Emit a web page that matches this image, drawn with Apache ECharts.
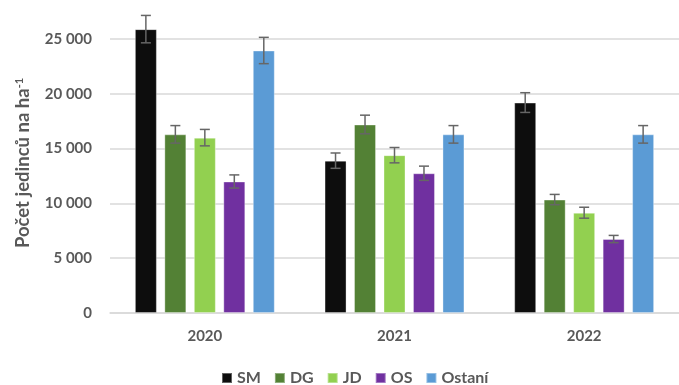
<!DOCTYPE html>
<html><head><meta charset="utf-8">
<script src="https://cdn.jsdelivr.net/npm/echarts@6/dist/echarts.min.js"></script>
<style>html,body{margin:0;padding:0;background:#fff}#c{width:679px;height:385px}</style>
</head><body><div id="c"></div>
<script>
const categories = ['2020', '2021', '2022'];
const seriesNames = ['SM', 'DG', 'JD', 'OS', 'Ostaní'];
const SM = [25900, 13900, 19200];
const DG = [16300, 17200, 10350];
const JD = [16000, 14400, 9150];
const OS = [12000, 12750, 6750];
const Ostani = [23950, 16300, 16300];
const errSM = [1250, 700, 900];
const errDG = [800, 850, 470];
const errJD = [750, 700, 500];
const errOS = [600, 650, 330];
const errOstani = [1200, 800, 800];
const yTicks = [0, 5000, 10000, 15000, 20000, 25000];

const values = [SM, DG, JD, OS, Ostani];
const errors = [errSM, errDG, errJD, errOS, errOstani];
const colors = ['#0d0d0d', '#538135', '#92d050', '#7030a0', '#5b9bd5'];
const FONT = 'Lato';
const BW = 22, GAP = 0.34;
const STEP = BW * (1 + GAP);

const chart = echarts.init(document.getElementById('c'));
const series = [];
values.forEach((v, i) => {
  series.push({
    name: seriesNames[i], type: 'bar', data: v, barWidth: BW, barGap: (GAP*100)+'%',
    clip: false,
    itemStyle: { color: colors[i], borderColor: 'rgba(255,255,255,0.35)', borderWidth: 1 }
  });
});
values.forEach((v, i) => {
  series.push({
    type: 'custom', clip: false, z: 5, silent: true,
    data: v.map((val, k) => [k, val, errors[i][k]]),
    renderItem: function (params, api) {
      const k = api.value(0), val = api.value(1), e = api.value(2);
      const top = api.coord([k, val + e]);
      const bot = api.coord([k, val - e]);
      const x = top[0] + (i - 2) * STEP;
      const cw = 5;
      const st = { stroke: '#666666', lineWidth: 1.5 };
      return { type: 'group', children: [
        { type: 'line', shape: { x1: x, y1: top[1], x2: x, y2: bot[1] }, style: st },
        { type: 'line', shape: { x1: x - cw, y1: top[1], x2: x + cw, y2: top[1] }, style: st },
        { type: 'line', shape: { x1: x - cw, y1: bot[1], x2: x + cw, y2: bot[1] }, style: st }
      ]};
    }
  });
});

chart.setOption({
  animation: false,
  textStyle: { fontFamily: FONT },
  grid: { left: 110, right: -12, top: 39, bottom: 72 },
  legend: {
    data: seriesNames, top: 370, left: 221, padding: 0, icon: 'rect', itemWidth: 10, itemHeight: 10, itemGap: 13,
    textStyle: { fontFamily: FONT, fontSize: 16, lineHeight: 16, fontWeight: 'bold', color: '#595959' }
  },
  xAxis: {
    type: 'category', data: categories,
    axisLine: { lineStyle: { color: '#d9d9d9', width: 1.5 } }, axisTick: { show: false },
    axisLabel: { fontFamily: FONT, fontSize: 15, fontWeight: 'bold', color: '#595959', margin: 16 }
  },
  yAxis: {
    type: 'value', min: 0, max: 25000, interval: 5000,
    name: '{p|}{a|Počet jedinců na ha}{s|-1}', nameLocation: 'middle', nameRotate: 90, nameGap: 77,
    nameTextStyle: { rich: {
      p: { width: 26, height: 1 },
      a: { fontFamily: FONT, fontSize: 18.5, fontWeight: 'bold', color: '#595959' },
      s: { fontFamily: FONT, fontSize: 11, fontWeight: 'bold', color: '#595959', verticalAlign: 'top', padding: [0,0,8,0] }
    } },
    axisLine: { show: false }, axisTick: { show: false },
    splitLine: { lineStyle: { color: '#d9d9d9', width: 1.5 } },
    axisLabel: { fontFamily: FONT, fontSize: 15, fontWeight: 'bold', color: '#595959', margin: 18,
      formatter: v => yTicks.includes(v) ? (v >= 1000 ? Math.floor(v/1000) + ' ' + String(v%1000).padStart(3,'0') : String(v)) : '' }
  },
  series: series
});
</script></body></html>
